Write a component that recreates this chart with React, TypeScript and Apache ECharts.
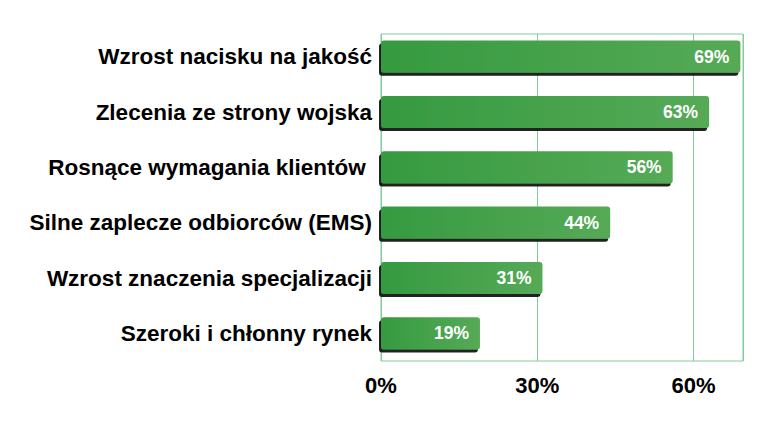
import React, { useEffect, useRef } from "react";
import * as echarts from "echarts";

const categories = [
  "Wzrost nacisku na jakość",
  "Zlecenia ze strony wojska",
  "Rosnące wymagania klientów ",
  "Silne zaplecze odbiorców (EMS)",
  "Wzrost znaczenia specjalizacji",
  "Szeroki i chłonny rynek",
];
const values = [69, 63, 56, 44, 31, 19];
const tickValues = [0, 30, 60];

export default function App() {
  const ref = useRef<HTMLDivElement>(null);
  useEffect(() => {
    if (!ref.current) return;
    const chart = echarts.init(ref.current, null, { renderer: "svg" });
    const cats = [...categories].reverse();
    const vals = [...values].reverse();
    const font = "Liberation Sans, Arial, sans-serif";
    chart.setOption({
      animation: false,
      backgroundColor: "#ffffff",
      grid: [
        { left: 381, right: 21, top: 29, bottom: 68, show: false },
        {
          left: 381,
          right: 21,
          top: 34,
          bottom: 68,
          show: true,
          borderColor: "#80cc9c",
          borderWidth: 1,
          backgroundColor: "transparent",
        },
      ],
      xAxis: [
        {
          type: "value",
          gridIndex: 0,
          min: 0,
          max: 69.5,
          interval: 30,
          axisLine: { show: false },
          axisTick: { show: false },
          splitLine: { show: false },
          axisLabel: {
            margin: 13,
            fontFamily: font,
            fontWeight: "bold",
            fontSize: 22,
            color: "#000",
            formatter: (v: number) => (tickValues.includes(v) ? v + "%" : ""),
          },
        },
        {
          type: "value",
          gridIndex: 1,
          min: 0,
          max: 69.5,
          interval: 30,
          axisLine: { show: false },
          axisTick: { show: false },
          axisLabel: { show: false },
          splitLine: { show: true, lineStyle: { color: "#80cc9c", width: 1 } },
        },
      ],
      yAxis: [
        {
          type: "category",
          gridIndex: 0,
          data: cats,
          axisLine: { show: false },
          axisTick: { show: false },
          axisLabel: {
            margin: 9,
            fontFamily: font,
            fontWeight: "bold",
            fontSize: 22.5,
            color: "#000",
          },
        },
        {
          type: "category",
          gridIndex: 1,
          data: cats,
          show: false,
        },
      ],
      series: [
        {
          type: "bar",
          xAxisIndex: 0,
          yAxisIndex: 0,
          data: vals,
          barCategoryGap: "42%",
          itemStyle: {
            borderRadius: 3,
            color: new echarts.graphic.LinearGradient(0, 0, 1, 0, [
              { offset: 0, color: "#359a40" },
              { offset: 1, color: "#56aa57" },
            ]),
            shadowColor: "rgba(20,20,20,0.95)",
            shadowBlur: 0,
            shadowOffsetX: -2,
            shadowOffsetY: 3,
          },
          label: {
            show: true,
            position: "insideRight",
            distance: 11,
            formatter: "{c}%",
            color: "#ffffff",
            fontFamily: font,
            fontWeight: "bold",
            fontSize: 17.5,
          },
        },
      ],
    });
    return () => chart.dispose();
  }, []);
  return (
    <div
      ref={ref}
      style={{ position: "fixed", left: 0, top: 0, width: 764, height: 429 }}
    />
  );
}
